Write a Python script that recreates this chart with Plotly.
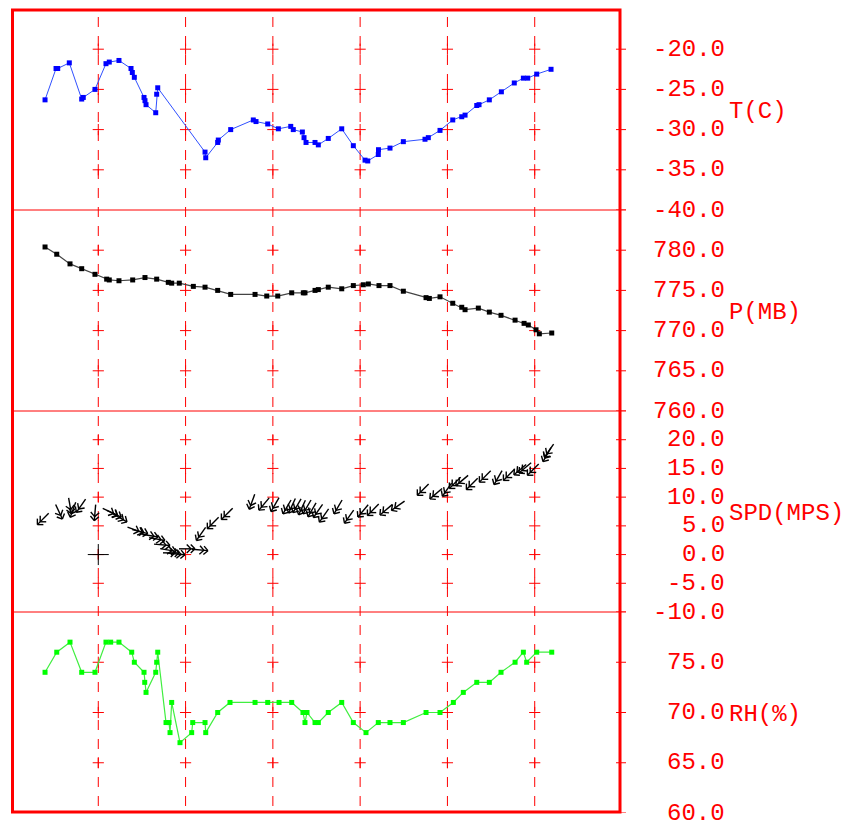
import math
import plotly.graph_objects as go

# ---------------- data ----------------
# time in hours from start of record
t_temp = [0.39, 0.516, 0.535, 0.668, 0.81, 0.828, 0.962, 1.088, 1.126, 1.237,
          1.375, 1.39, 1.413, 1.524, 1.535, 1.547, 1.658, 1.669, 1.681, 2.223,
          2.231, 2.368, 2.375, 2.517, 2.776, 2.807, 2.941, 3.063, 3.205, 3.234,
          3.338, 3.357, 3.38, 3.483, 3.521, 3.635, 3.789, 3.922, 4.056, 4.087,
          4.208, 4.21, 4.342, 4.495, 4.743, 4.781, 4.915, 5.061, 5.164, 5.202,
          5.336, 5.362, 5.48, 5.618, 5.766, 5.87, 5.92, 6.023, 6.187]
temp_c = [-26.3, -22.4, -22.4, -21.7, -26.2, -26.0, -25.0, -21.8, -21.6, -21.4,
          -22.4, -22.9, -23.5, -26.0, -26.4, -26.9, -27.9, -25.6, -24.8, -32.8,
          -33.5, -31.6, -31.3, -30.0, -28.8, -29.0, -29.3, -29.9, -29.6, -30.0,
          -30.3, -31.0, -31.6, -31.6, -31.9, -31.1, -29.9, -32.0, -33.8, -33.9,
          -33.1, -32.5, -32.3, -31.5, -31.2, -31.0, -30.1, -28.8, -28.4, -28.2,
          -27.0, -26.9, -26.3, -25.3, -24.2, -23.6, -23.6, -23.1, -22.5]

t_pres = [0.39, 0.524, 0.676, 0.81, 0.962, 1.096, 1.126, 1.237, 1.394, 1.535,
          1.669, 1.802, 1.841, 1.928, 2.089, 2.223, 2.368, 2.517, 2.796, 2.93,
          3.056, 3.216, 3.349, 3.368, 3.483, 3.521, 3.635, 3.789, 3.922, 4.036,
          4.094, 4.216, 4.342, 4.495, 4.755, 4.793, 4.915, 5.061, 5.164, 5.202,
          5.354, 5.48, 5.614, 5.775, 5.878, 5.927, 6.015, 6.053, 6.195]
pres_mb = [780.4, 779.5, 778.3, 777.7, 777.0, 776.4, 776.3, 776.2, 776.3, 776.6,
           776.4, 776.0, 775.9, 775.9, 775.5, 775.4, 775.0, 774.5, 774.5, 774.3,
           774.3, 774.7, 774.7, 774.7, 775.0, 775.1, 775.4, 775.2, 775.6, 775.7,
           775.8, 775.6, 775.6, 774.9, 774.1, 774.0, 774.2, 773.4, 772.9, 772.6,
           772.8, 772.3, 771.9, 771.3, 770.9, 770.7, 770.1, 769.6, 769.7]

t_rh = [0.39, 0.524, 0.676, 0.81, 0.962, 1.088, 1.142, 1.237, 1.383, 1.413,
        1.524, 1.532, 1.547, 1.658, 1.669, 1.681, 1.776, 1.81, 1.822, 1.841,
        1.936, 2.07, 2.082, 2.223, 2.231, 2.368, 2.509, 2.796, 2.941, 3.071,
        3.216, 3.345, 3.368, 3.391, 3.483, 3.521, 3.635, 3.789, 3.922, 4.067,
        4.208, 4.342, 4.495, 4.755, 4.915, 5.068, 5.182, 5.336, 5.48, 5.614,
        5.775, 5.87, 5.908, 6.023, 6.195]
rh_pct = [74, 76, 77, 74, 74, 77, 77, 77, 76, 75,
          74, 73, 72, 74, 75, 76, 69, 69, 68, 71,
          67, 68, 69, 69, 68, 70, 71, 71, 71, 71,
          71, 70, 69, 70, 69, 69, 70, 71, 69, 68,
          69, 69, 69, 70, 70, 71, 72, 73, 73, 74,
          75, 76, 75, 76, 76]

t_wind = [0.367, 0.55, 0.676, 0.71, 0.802, 0.962, 1.134, 1.18, 1.249, 1.421,
          1.478, 1.593, 1.673, 1.73, 1.799, 1.833, 1.902, 2.016, 2.165, 2.177,
          2.314, 2.475, 2.761, 2.899, 3.025, 3.162, 3.219, 3.277, 3.334, 3.391,
          3.449, 3.517, 3.586, 3.747, 3.873, 4.033, 4.148, 4.297, 4.434, 4.72,
          4.869, 4.995, 5.087, 5.167, 5.282, 5.431, 5.58, 5.706, 5.832, 5.889,
          5.981, 6.141, 6.164]
wind_spd = [6.2, 7.45, 8.5, 7.8, 8.5, 7.3, 7.45, 7.1, 6.4, 4.3,
            4.0, 3.3, 2.7, 1.7, 0.8, 0.3, 0.1, 1.0, 0.8, 3.6,
            5.5, 7.1, 9.2, 8.8, 8.7, 8.3, 8.5, 8.5, 8.2, 8.3,
            7.8, 7.6, 6.8, 8.3, 6.6, 7.6, 7.8, 7.8, 8.5, 11.3,
            10.6, 11.3, 12.5, 12.9, 12.3, 13.6, 13.4, 13.9, 14.8, 15.1,
            14.8, 17.4, 18.1]
# direction the wind blows from (degrees)
wind_dir = [45, 335, 350, 20, 35, 5, 295, 295, 300, 290,
            285, 280, 280, 275, 280, 270, 275, 270, 275, 35,
            45, 45, 20, 40, 30, 30, 25, 30, 25, 30,
            30, 35, 35, 30, 35, 40, 45, 50, 55, 45,
            50, 35, 45, 50, 45, 45, 30, 45, 50, 50,
            45, 30, 35]

calm_t = [1.0]
calm_spd = [0.0]

grid_t = [1, 2, 3, 4, 5, 6]
temp_ticks = [-20, -25, -30, -35, -40]
pres_ticks = [780, 775, 770, 765, 760]
spd_ticks = [20, 15, 10, 5, 0, -5, -10]
rh_ticks = [75, 70, 65, 60]

panels = [
    # (axis, range, ticks, unit label)
    ("y", [-40, -15], temp_ticks, "T(C)"),
    ("y2", [760, 785], pres_ticks, "P(MB)"),
    ("y3", [-10, 25], spd_ticks, "SPD(MPS)"),
    ("y4", [60, 80], rh_ticks, "RH(%)"),
]
domains = [[0.75, 1.0], [0.5, 0.75], [0.25, 0.5], [0.0, 0.25]]

# ---------------- layout geometry ----------------
W, H = 844, 823
ML, MR, MT, MB = 11, 222, 9, 10
PW, PH = W - ML - MR, H - MT - MB
X_RANGE = [0, 7]
RED = "#ff0000"
FONT = "Courier New, Courier, Nimbus Mono PS, FreeMono, Liberation Mono, monospace"


def px_x(px):
    """page pixel -> paper x"""
    return (px - ML) / PW


def px_y(py):
    """page pixel -> paper y"""
    return 1 - (py - MT) / PH


fig = go.Figure()

# grid crosses on the dashed time lines
for (ax, rng, ticks, _), dom in zip(panels, domains):
    inner = [v for v in ticks if rng[0] < v < rng[1]]
    xs, ys = [], []
    for g in grid_t:
        for v in inner:
            xs.append(g)
            ys.append(v)
    fig.add_trace(go.Scatter(
        x=xs, y=ys, yaxis=ax, mode="markers", hoverinfo="skip",
        marker=dict(symbol="cross-thin", size=8, line=dict(color=RED, width=1)),
        showlegend=False))

# temperature
fig.add_trace(go.Scatter(
    x=t_temp, y=temp_c, yaxis="y", mode="lines+markers", showlegend=False,
    line=dict(color="#3050ff", width=1),
    marker=dict(symbol="square", size=5, color="#0000ff")))

# pressure
fig.add_trace(go.Scatter(
    x=t_pres, y=pres_mb, yaxis="y2", mode="lines+markers", showlegend=False,
    line=dict(color="#444444", width=1.2),
    marker=dict(symbol="square", size=5, color="#000000")))

# relative humidity
fig.add_trace(go.Scatter(
    x=t_rh, y=rh_pct, yaxis="y4", mode="lines+markers", showlegend=False,
    line=dict(color="#40ee40", width=1.2),
    marker=dict(symbol="square", size=5, color="#00ff00")))

# wind arrows: drawn in pixel units, converted to data units
ppx = PW / (X_RANGE[1] - X_RANGE[0])
ppy = PH * 0.25 / (25 - (-10))
L, ARM, FEATH = 16.0, 6.0, 4.0


def rot(vx, vy, deg):
    a = math.radians(deg)
    return vx * math.cos(a) - vy * math.sin(a), vx * math.sin(a) + vy * math.cos(a)


ax_, ay_ = [], []
for t, s, d in zip(t_wind, wind_spd, wind_dir):
    toward = math.radians((d + 180) % 360)
    ux, uy = math.sin(toward), math.cos(toward)  # pixel direction, y up
    tipx, tipy = ux * L / 2, uy * L / 2
    tailx, taily = -ux * L / 2, -uy * L / 2
    segs = [((tailx, taily), (tipx, tipy))]
    for back in (0.0, FEATH):
        bx, by = tipx - ux * back, tipy - uy * back
        for sgn in (45, -45):
            vx, vy = rot(-ux, -uy, sgn)
            segs.append(((bx, by), (bx + vx * ARM, by + vy * ARM)))
    for (x0, y0), (x1, y1) in segs:
        ax_ += [t + x0 / ppx, t + x1 / ppx, None]
        ay_ += [s + y0 / ppy, s + y1 / ppy, None]

fig.add_trace(go.Scatter(
    x=ax_, y=ay_, yaxis="y3", mode="lines", hoverinfo="skip", showlegend=False,
    line=dict(color="#000000", width=1.4)))

# calm marker
fig.add_trace(go.Scatter(
    x=calm_t, y=calm_spd, yaxis="y3", mode="markers", showlegend=False,
    marker=dict(symbol="cross-thin", size=15, line=dict(color="#000000", width=1))))

# ---------------- shapes ----------------
shapes = []
# dashed time lines
for g in grid_t:
    shapes.append(dict(type="line", xref="x", yref="paper", x0=g, x1=g,
                       y0=px_y(17), y1=0, layer="below",
                       line=dict(color=RED, width=1, dash="10px,9px")))
# panel separators
for yb in (0.25, 0.5, 0.75):
    shapes.append(dict(type="line", xref="paper", yref="paper", x0=0, x1=px_x(626),
                       y0=yb, y1=yb, line=dict(color=RED, width=1)))
# right-hand ticks
for (ax, rng, ticks, _) in panels:
    for v in ticks:
        shapes.append(dict(type="line", xref="paper", yref=ax, x0=px_x(616), x1=px_x(626),
                           y0=v, y1=v, line=dict(color=RED, width=1)))
# frame
shapes.append(dict(type="rect", xref="paper", yref="paper",
                   x0=px_x(12.5), x1=px_x(620), y0=px_y(812), y1=px_y(10),
                   line=dict(color=RED, width=3)))

# ---------------- labels ----------------
annotations = []
for (ax, rng, ticks, unit), dom in zip(panels, domains):
    for v in ticks:
        annotations.append(dict(
            xref="paper", yref=ax, x=px_x(727), y=v, xanchor="right", yanchor="middle",
            text=f"{v:.1f}", showarrow=False,
            font=dict(family=FONT, size=24, color=RED)))
    annotations.append(dict(
        xref="paper", yref="paper", x=px_x(727), y=(dom[0] + dom[1]) / 2,
        xanchor="left", yanchor="middle", yshift=-2, text=unit, showarrow=False,
        font=dict(family=FONT, size=24, color=RED)))

layout = dict(
    width=W, height=H,
    margin=dict(l=ML, r=MR, t=MT, b=MB, pad=0),
    paper_bgcolor="white", plot_bgcolor="white",
    showlegend=False,
    xaxis=dict(domain=[0, 1], range=X_RANGE, visible=False, anchor="y4"),
    shapes=shapes, annotations=annotations,
)
for (ax, rng, ticks, _), dom in zip(panels, domains):
    key = "yaxis" if ax == "y" else "yaxis" + ax[1:]
    layout[key] = dict(domain=dom, range=rng, anchor="x", showgrid=False,
                       zeroline=False, showticklabels=False, ticks="", showline=False)

fig.update_layout(**layout)
fig.write_html("out.html")
